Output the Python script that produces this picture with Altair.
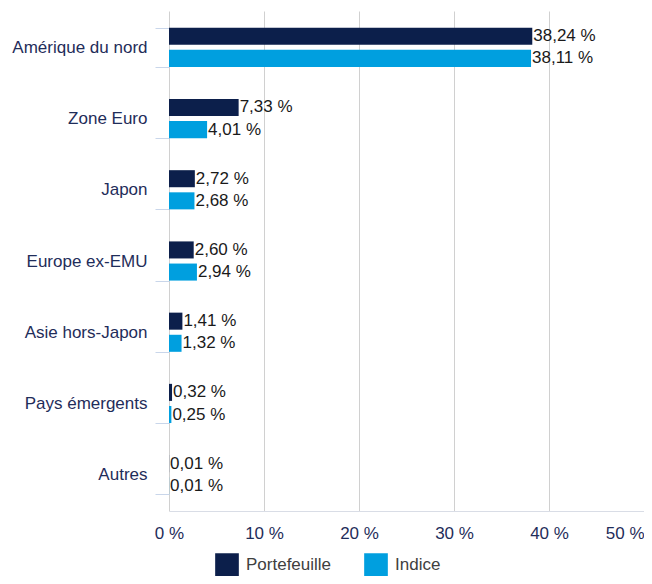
import altair as alt
import pandas as pd

categories = ["Amérique du nord", "Zone Euro", "Japon", "Europe ex-EMU",
              "Asie hors-Japon", "Pays émergents", "Autres"]
series_names = ["Portefeuille", "Indice"]
portefeuille = [38.24, 7.33, 2.72, 2.60, 1.41, 0.32, 0.01]
indice = [38.11, 4.01, 2.68, 2.94, 1.32, 0.25, 0.01]
x_ticks = [0, 10, 20, 30, 40, 50]
colors = ["#0c1f4b", "#009fdf"]

rows = []
for c, p, i in zip(categories, portefeuille, indice):
    rows.append({"cat": c, "serie": series_names[0], "v": p})
    rows.append({"cat": c, "serie": series_names[1], "v": i})
df = pd.DataFrame(rows)

FONT = "Arial, Liberation Sans, sans-serif"
FS = 17

y_enc = alt.Y("cat:N", sort=categories,
              scale=alt.Scale(paddingInner=0.45, paddingOuter=0.235),
              axis=alt.Axis(title=None, labelFontSize=FS, labelColor="#1f2d5a",
                            labelFont=FONT, domain=False, tickBand="extent",
                            tickSize=14, tickColor="#c9d6ea", labelPadding=8,
                            grid=False))
yoff = alt.YOffset("serie:N", sort=series_names,
                   scale=alt.Scale(domain=series_names, paddingInner=0.23, paddingOuter=0))
x_enc = alt.X("v:Q", scale=alt.Scale(domain=[0, 50]),
              axis=alt.Axis(title=None, values=x_ticks, labelExpr="datum.value + ' %'",
                            labelFontSize=FS, labelColor="#1f2d5a", labelFont=FONT,
                            tickSize=0, labelPadding=14, domainColor="#d9dde6",
                            gridColor="#d0d0d0", grid=True,
                            labelAlign=alt.ExprRef("datum.value == 50 ? 'right' : 'center'")))

bars = alt.Chart(df).mark_bar().encode(
    y=y_enc, yOffset=yoff, x=x_enc,
    color=alt.Color("serie:N", sort=series_names,
                    scale=alt.Scale(domain=series_names, range=colors),
                    legend=alt.Legend(title=None, orient="none", direction="horizontal",
                                      legendX=46, legendY=542, symbolType="square",
                                      symbolSize=560, symbolStrokeWidth=0,
                                      labelFontSize=FS, labelFont=FONT,
                                      labelColor="#404040", columnPadding=32,
                                      labelOffset=7)),
)

texts = alt.Chart(df).transform_calculate(
    lab="replace(format(datum.v, '.2f'), '.', ',') + ' %'"
).mark_text(align="left", baseline="middle", dx=1, fontSize=FS, font=FONT,
            color="#1a1a1a").encode(
    y=alt.Y("cat:N", sort=categories), yOffset=yoff, x="v:Q", text="lab:N"
)

chart = alt.layer(bars, texts).properties(
    width=475, height=500,
    autosize=alt.AutoSizeParams(type="none"),
    padding={"left": 161, "top": 3, "right": 0, "bottom": 65},
).configure_view(stroke=None)

chart.save("out.html", embed_options={"renderer": "svg", "actions": False})
